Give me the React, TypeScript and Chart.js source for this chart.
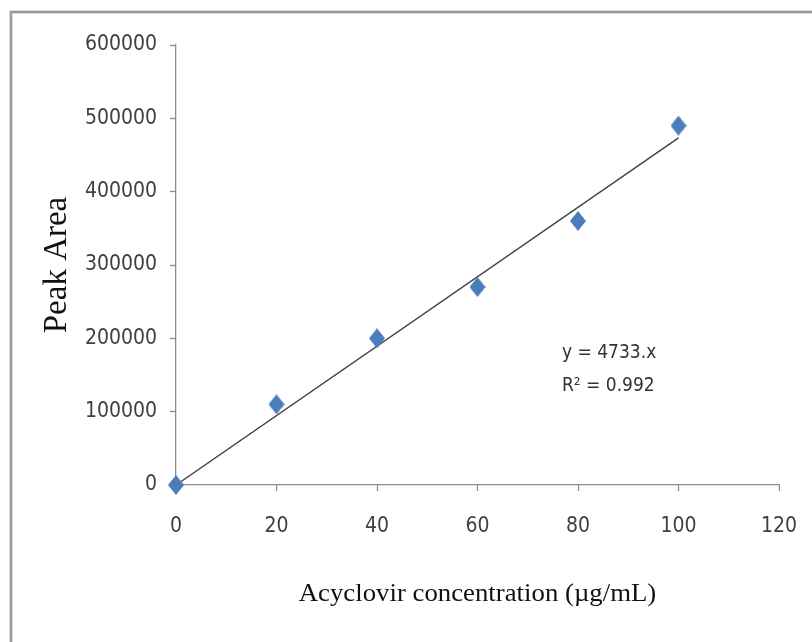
import React, { useEffect, useRef } from "react";
import { Chart, registerables } from "chart.js";

Chart.register(...registerables);

const concentrations = [0, 20, 40, 60, 80, 100];
const peakAreas = [0, 110000, 200000, 270000, 360000, 490000];
const trendX = [0, 100];
const slope = 4733;
const equationLines = ["y = 4733.x", "R\u00B2 = 0.992"];
const xTitle = "Acyclovir concentration (\u00B5g/mL)";
const yTitle = "Peak Area";

const tickFont = "'DejaVu Sans Condensed', 'Open Sans', sans-serif";
const serifFont = "'Liberation Serif', 'DejaVu Serif', serif";

function makeDiamond(w: number, h: number, color: string) {
  const c = document.createElement("canvas");
  c.width = w;
  c.height = h;
  const g = c.getContext("2d") as CanvasRenderingContext2D;
  g.fillStyle = color;
  g.beginPath();
  g.moveTo(w / 2, 0);
  g.lineTo(w, h / 2);
  g.lineTo(w / 2, h);
  g.lineTo(0, h / 2);
  g.closePath();
  g.fill();
  return c;
}

const decorPlugin = {
  id: "decor",
  beforeDraw(chart: any) {
    const ctx = chart.ctx;
    ctx.save();
    ctx.fillStyle = "#ffffff";
    ctx.fillRect(0, 0, chart.width, chart.height);
    ctx.strokeStyle = "#dcdcdc";
    ctx.lineWidth = 4;
    ctx.beginPath();
    ctx.moveTo(11, chart.height);
    ctx.lineTo(11, 12);
    ctx.lineTo(chart.width, 12);
    ctx.stroke();
    ctx.strokeStyle = "#9a9a9a";
    ctx.lineWidth = 2;
    ctx.beginPath();
    ctx.moveTo(11, chart.height);
    ctx.lineTo(11, 12);
    ctx.lineTo(chart.width, 12);
    ctx.stroke();
    ctx.restore();
  },
  afterDraw(chart: any) {
    const ctx = chart.ctx;
    const area = chart.chartArea;
    const xs = chart.scales.x;
    const ys = chart.scales.y;
    ctx.save();
    ctx.fillStyle = "#111111";
    ctx.textAlign = "center";
    ctx.textBaseline = "middle";
    // x axis title
    ctx.save();
    ctx.font = `26px ${serifFont}`;
    ctx.translate((area.left + area.right) / 2, 594);
    ctx.scale(1.03, 1);
    ctx.fillText(xTitle, 0, 0);
    ctx.restore();
    // y axis title
    ctx.save();
    ctx.font = `33px ${serifFont}`;
    ctx.translate(57, (area.top + area.bottom) / 2);
    ctx.rotate(-Math.PI / 2);
    ctx.fillText(yTitle, 0, 0);
    ctx.restore();
    ctx.restore();
    // equation
    ctx.save();
    ctx.fillStyle = "#333333";
    ctx.font = `19px ${tickFont}`;
    ctx.textAlign = "left";
    ctx.textBaseline = "middle";
    const ex = xs.getPixelForValue(76.8);
    const ey = ys.getPixelForValue(181000);
    equationLines.forEach((t, i) => ctx.fillText(t, ex, ey + 1 + i * 33));
    ctx.restore();
  },
};

export default function App() {
  const ref = useRef<HTMLCanvasElement>(null);
  useEffect(() => {
    document.body.style.margin = "0";
    const diamond = makeDiamond(16, 20, "#4a7ebb");
    const axisColor = "#8c8c8c";
    const chart = new Chart(ref.current as HTMLCanvasElement, {
      type: "scatter",
      data: {
        datasets: [
          {
            label: "Peak Area",
            data: concentrations.map((c, i) => ({ x: c, y: peakAreas[i] })),
            pointStyle: diamond as any,
            pointRadius: 10,
            showLine: false,
            clip: false as any,
            order: 1,
          },
          {
            label: "Trend",
            data: trendX.map((x) => ({ x, y: slope * x })),
            showLine: true,
            borderColor: "#404040",
            borderWidth: 1.4,
            pointRadius: 0,
            fill: false,
            order: 2,
          },
        ],
      },
      options: {
        animation: false,
        responsive: false,
        layout: { padding: { left: 0, right: 33, top: 45, bottom: 0 } },
        plugins: { legend: { display: false }, tooltip: { enabled: false } },
        scales: {
          x: {
            type: "linear",
            min: 0,
            max: 120,
            border: { color: axisColor, width: 1.3 },
            grid: { display: true, drawOnChartArea: false, drawTicks: true, tickLength: 6, tickColor: axisColor, tickWidth: 1.3 },
            ticks: {
              stepSize: 20,
              padding: 23,
              color: "#404040",
              font: { family: tickFont, size: 21 },
              callback: (v: any) => String(v),
            },
            afterFit(scale: any) {
              scale.height = 642 - 485;
              scale.paddingRight = 0;
              scale.paddingLeft = 0;
            },
          },
          y: {
            type: "linear",
            min: 0,
            max: 600000,
            border: { color: axisColor, width: 1.3 },
            grid: { display: true, drawOnChartArea: false, drawTicks: true, tickLength: 6, tickColor: axisColor, tickWidth: 1.3 },
            ticks: {
              stepSize: 100000,
              padding: 13,
              color: "#404040",
              font: { family: tickFont, size: 21 },
              callback: (v: any) => String(v),
            },
            afterFit(scale: any) {
              scale.width = 176;
              scale.paddingTop = 0;
              scale.paddingBottom = 0;
            },
          },
        },
      },
      plugins: [decorPlugin],
    });
    return () => chart.destroy();
  }, []);
  return (
    <div style={{ position: "absolute", left: 0, top: 0, width: 812, height: 642 }}>
      <canvas ref={ref} width={812} height={642} style={{ display: "block" }} />
    </div>
  );
}
